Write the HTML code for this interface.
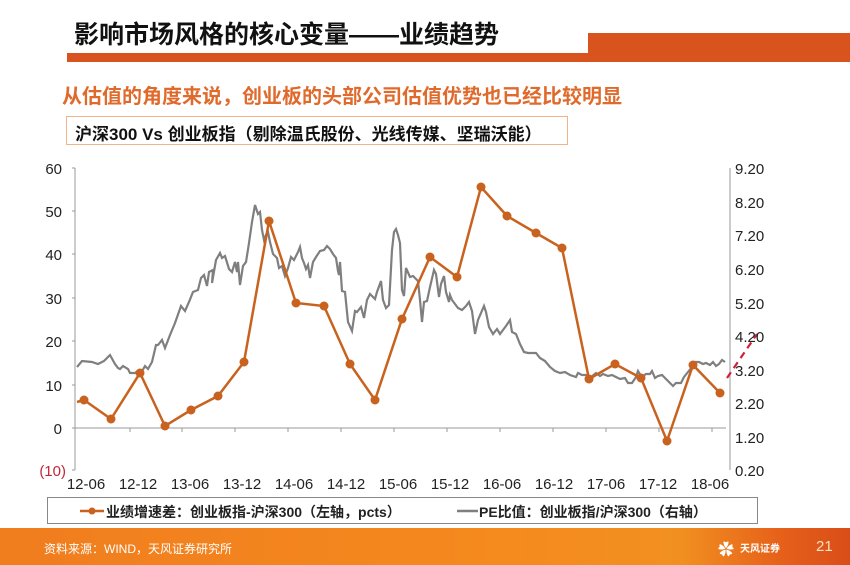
<!DOCTYPE html>
<html><head><meta charset="utf-8"><style>
body{margin:0;width:850px;height:565px;overflow:hidden;background:#fff;font-family:"Liberation Sans","Noto Sans CJK SC",sans-serif;position:relative}
.a{position:absolute;white-space:nowrap}
</style></head><body>
<div class="a" style="left:67px;top:53px;width:783px;height:9px;background:#d9531e"></div>
<div class="a" style="left:588px;top:33px;width:262px;height:29px;background:#d9531e"></div>
<div class="a" style="left:74px;top:15px;font-size:25px;font-weight:bold;color:#111;letter-spacing:0px">影响市场风格的核心变量——业绩趋势</div>
<div class="a" style="left:62px;top:80px;font-size:20px;font-weight:bold;color:#e06a2c">从估值的角度来说，创业板的头部公司估值优势也已经比较明显</div>
<div class="a" style="left:66px;top:116px;width:502px;height:29px;border:1.5px solid #f0b48a;box-sizing:border-box"></div>
<div class="a" style="left:75px;top:120px;font-size:17px;font-weight:bold;color:#111">沪深300 Vs 创业板指（剔除温氏股份、光线传媒、坚瑞沃能）</div>

<svg class="a" style="left:0;top:0" width="850" height="565">
<g fill="none" stroke="#999" stroke-width="1">
<line x1="75" y1="168" x2="75" y2="470"/><line x1="72" y1="168" x2="75" y2="168"/>
<line x1="72" y1="211" x2="75" y2="211"/><line x1="72" y1="254" x2="75" y2="254"/>
<line x1="72" y1="298" x2="75" y2="298"/><line x1="72" y1="341" x2="75" y2="341"/>
<line x1="72" y1="385" x2="75" y2="385"/><line x1="72" y1="428" x2="75" y2="428"/>
<line x1="72" y1="470" x2="75" y2="470"/>
<line x1="75" y1="428" x2="726" y2="428"/>
<line x1="730" y1="168" x2="730" y2="470"/>
<line x1="130" y1="428" x2="130" y2="432"/><line x1="182" y1="428" x2="182" y2="432"/><line x1="235" y1="428" x2="235" y2="432"/><line x1="288" y1="428" x2="288" y2="432"/><line x1="341" y1="428" x2="341" y2="432"/><line x1="394" y1="428" x2="394" y2="432"/><line x1="447" y1="428" x2="447" y2="432"/><line x1="500" y1="428" x2="500" y2="432"/><line x1="553" y1="428" x2="553" y2="432"/><line x1="606" y1="428" x2="606" y2="432"/><line x1="659" y1="428" x2="659" y2="432"/><line x1="712" y1="428" x2="712" y2="432"/>
</g>
<polyline fill="none" stroke="#7f7f7f" stroke-width="2.2" points="77,367 82,361 92,362 98,364 104,361 107,358 110,355 115,364 118,368 120,369 123,366 128,369 130,373 135,373 138,371 141,373 145,366 148,369 152,362 156,345 158,345 162,340 165,348 170,335 175,323 181,306 185,311 189,302 193,292 198,290 201,278 204,275 207,286 209,272 213,270 212,283 216,260 220,253 222,258 225,256 229,269 232,272 235,262 237,272 238,262 240,285 243,266 246,262 249,243 252,222 255,205 258,214 260,212 262,230 264,240 266,235 268,232 270,242 273,254 277,258 279,268 282,266 285,276 288,268 291,257 294,260 296,256 298,252 300,247 302,258 304,263 306,269 308,265 310,278 313,262 316,257 320,251 324,250 327,246 330,249 333,254 336,258 338,271 339,275 340,262 342,291 345,292 348,322 352,331 355,311 357,312 361,307 364,318 367,300 370,294 372,296 375,299 377,292 381,281 383,300 386,308 389,305 392,250 394,232 396,229 398,235 400,243 402,290 404,296 406,268 410,277 413,276 418,281 420,300 422,322 424,302 427,301 430,287 434,270 436,274 439,297 441,284 444,276 446,292 449,302 450,295 452,300 455,304 458,308 462,310 466,306 469,302 472,311 475,334 478,320 484,306 486,312 489,327 493,334 497,329 500,334 503,330 506,326 510,320 512,332 516,334 520,344 524,352 528,353 536,353 540,358 545,361 550,367 555,371 560,373 565,372 570,375 576,377 578,373 582,375 586,375 590,378 596,373 600,376 603,374 608,376 612,375 616,377 620,379 625,378 628,383 632,383 636,377 638,371 641,376 643,376 646,374 650,374 652,371 655,378 658,376 662,375 664,377 667,380 670,383 673,386 676,383 681,383 684,377 688,372 692,367 695,362 699,362 703,364 706,363 710,365 713,362 716,366 719,364 722,360 725,362"/>
<g fill="#c8621e" stroke="#c8621e">
<polyline fill="none" stroke-width="2.5" points="77,402 84,400 111,419 140,373 165,426 191,410 218,396 244,362 269,221 296,303 324,306 350,364 375,400 402,319 430,257 457,277 481,187 507,216 536,233 562,248 589,379 615,364 641,378 667,441 693,365 720,393"/>
<circle cx="84" cy="400" r="4"/><circle cx="111" cy="419" r="4"/><circle cx="140" cy="373" r="4"/><circle cx="165" cy="426" r="4"/><circle cx="191" cy="410" r="4"/><circle cx="218" cy="396" r="4"/><circle cx="244" cy="362" r="4"/><circle cx="269" cy="221" r="4"/><circle cx="296" cy="303" r="4"/><circle cx="324" cy="306" r="4"/><circle cx="350" cy="364" r="4"/><circle cx="375" cy="400" r="4"/><circle cx="402" cy="319" r="4"/><circle cx="430" cy="257" r="4"/><circle cx="457" cy="277" r="4"/><circle cx="481" cy="187" r="4"/><circle cx="507" cy="216" r="4"/><circle cx="536" cy="233" r="4"/><circle cx="562" cy="248" r="4"/><circle cx="589" cy="379" r="4"/><circle cx="615" cy="364" r="4"/><circle cx="641" cy="378" r="4"/><circle cx="667" cy="441" r="4"/><circle cx="693" cy="365" r="4"/><circle cx="720" cy="393" r="4"/>
</g>
<line x1="727" y1="378" x2="757" y2="334" stroke="#d0213a" stroke-width="2.2" stroke-dasharray="7,5"/>
<g font-family="Liberation Sans, sans-serif" font-size="15" fill="#222" text-anchor="end">
<text x="62" y="174">60</text><text x="62" y="217">50</text><text x="62" y="260">40</text><text x="62" y="304">30</text><text x="62" y="347">20</text><text x="62" y="391">10</text><text x="62" y="434">0</text>
<text x="66" y="476" fill="#c0283a">(10)</text>
</g>
<g font-family="Liberation Sans, sans-serif" font-size="15" fill="#222">
<text x="735" y="174">9.20</text><text x="735" y="208">8.20</text><text x="735" y="241">7.20</text><text x="735" y="275">6.20</text><text x="735" y="309">5.20</text><text x="735" y="342">4.20</text><text x="735" y="376">3.20</text><text x="735" y="409">2.20</text><text x="735" y="443">1.20</text><text x="735" y="476">0.20</text>
</g>
<g font-family="Liberation Sans, sans-serif" font-size="15" fill="#222" text-anchor="middle">
<text x="86" y="489">12-06</text><text x="138" y="489">12-12</text><text x="190" y="489">13-06</text><text x="242" y="489">13-12</text><text x="294" y="489">14-06</text><text x="346" y="489">14-12</text><text x="398" y="489">15-06</text><text x="450" y="489">15-12</text><text x="502" y="489">16-06</text><text x="554" y="489">16-12</text><text x="606" y="489">17-06</text><text x="658" y="489">17-12</text><text x="710" y="489">18-06</text>
</g>
<rect x="47.5" y="497.5" width="710" height="26" fill="none" stroke="#888"/>
<line x1="80" y1="511" x2="104" y2="511" stroke="#c8621e" stroke-width="2.5"/><circle cx="92" cy="511" r="3.5" fill="#c8621e"/>
<line x1="457" y1="511" x2="478" y2="511" stroke="#7f7f7f" stroke-width="2.5"/>
</svg>
<div class="a" style="left:106px;top:502px;font-size:14px;font-weight:bold;color:#222">业绩增速差：创业板指-沪深300（左轴，pcts）</div>
<div class="a" style="left:479px;top:502px;font-size:14px;font-weight:bold;color:#222">PE比值：创业板指/沪深300（右轴）</div>
<div class="a" style="left:0;top:528px;width:850px;height:37px;background:linear-gradient(90deg,#f07d1e 0%,#f58a1e 60%,#f19020 80%,#e6601a 92%,#d94d18 100%)"></div>
<div class="a" style="left:44px;top:540px;font-size:12px;color:#fff">资料来源：WIND，天风证券研究所</div>
<div class="a" style="left:718px;top:536px;font-size:16px;color:#fff">✿</div>
<div class="a" style="left:740px;top:540px;font-size:10px;color:#fff;font-weight:bold">天风证券</div>
<div class="a" style="left:816px;top:538px;font-size:15px;color:#fde0c0">21</div>
</body></html>
